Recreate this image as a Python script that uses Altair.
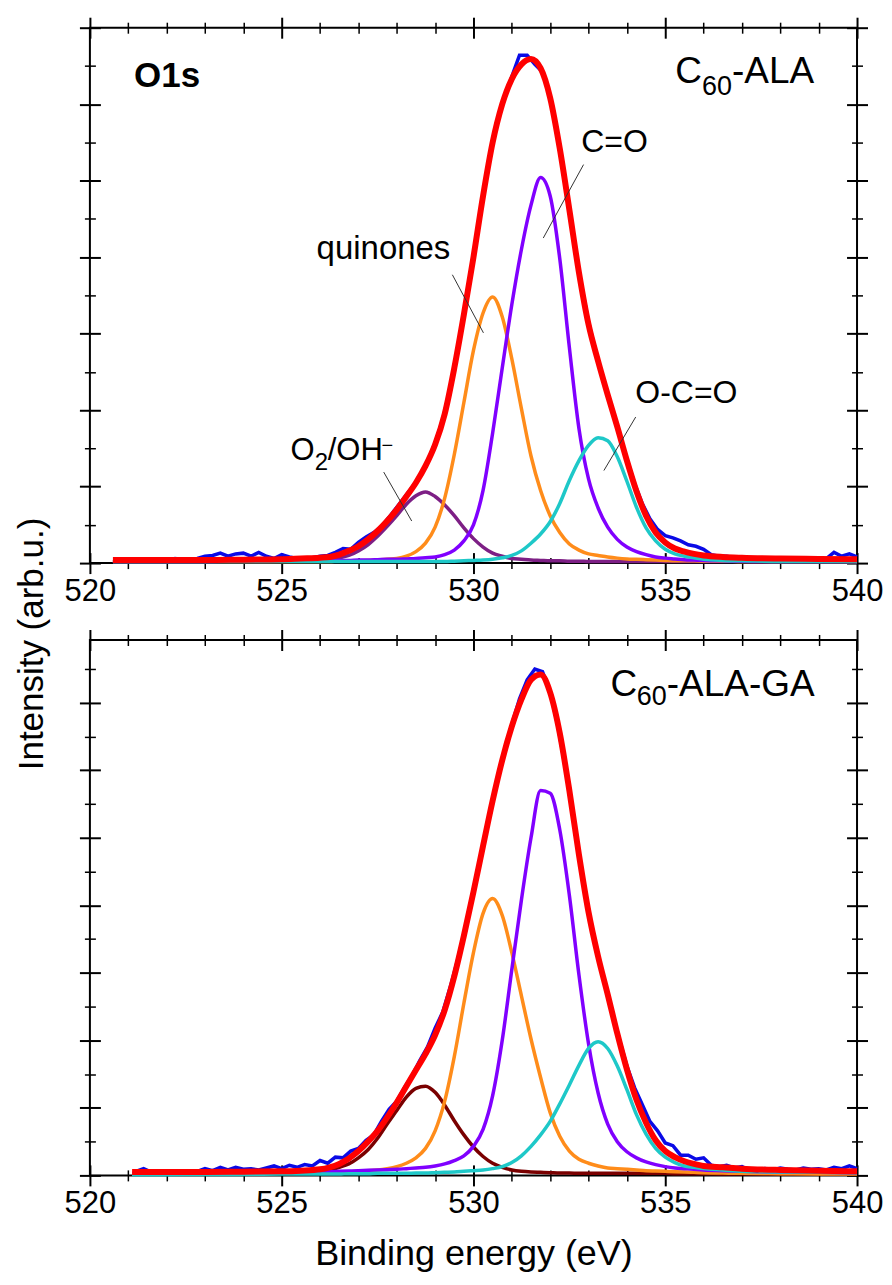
import altair as alt
import pandas as pd

FONT = "Liberation Sans"

# ---------------- energy grids (eV) ----------------
E_FIT_TOP = [520.6, 522, 523, 524, 525, 525.5,
             526, 526.25, 526.5, 526.75, 527, 527.25, 527.5, 527.75, 528, 528.25,
             528.5, 528.75, 529, 529.25, 529.5, 529.75, 530, 530.25, 530.5, 530.75,
             531, 531.25, 531.5, 531.75, 532, 532.25, 532.5, 532.75, 533, 533.25,
             533.5, 533.75, 534, 534.25, 534.5, 534.75, 535, 535.25, 535.5, 535.75,
             536, 536.5, 537, 538, 539, 540]
E_FIT_BOT = [521.1] + E_FIT_TOP[1:]

# ---------------- top panel: C60-ALA ----------------
OH_TOP = [0.02, 0.02, 0.02, 0.02, 0.025, 0.03,
          0.04, 0.05, 0.07, 0.10, 0.16, 0.24, 0.35, 0.48, 0.62, 0.77,
          0.88, 0.93, 0.87, 0.76, 0.62, 0.46, 0.32, 0.21, 0.13, 0.09,
          0.06, 0.05, 0.04, 0.035, 0.03, 0.03, 0.025, 0.025, 0.02, 0.02,
          0.02, 0.02, 0.02, 0.02, 0.02, 0.02, 0.02, 0.02, 0.02, 0.02,
          0.02, 0.02, 0.02, 0.02, 0.02, 0.02]
QUI_TOP = [0.02, 0.02, 0.02, 0.02, 0.02, 0.02,
           0.02, 0.02, 0.025, 0.025, 0.03, 0.035, 0.04, 0.05, 0.06, 0.09,
           0.15, 0.26, 0.47, 0.85, 1.42, 2.10, 2.78, 3.27, 3.48, 3.22,
           2.67, 2.02, 1.40, 0.95, 0.62, 0.40, 0.25, 0.17, 0.12, 0.10,
           0.08, 0.065, 0.055, 0.05, 0.045, 0.04, 0.035, 0.03, 0.03, 0.03,
           0.025, 0.025, 0.02, 0.02, 0.02, 0.02]
CO_TOP = [0.02, 0.02, 0.02, 0.025, 0.025, 0.03,
          0.03, 0.03, 0.035, 0.035, 0.04, 0.04, 0.045, 0.05, 0.05, 0.055,
          0.06, 0.07, 0.08, 0.11, 0.17, 0.29, 0.50, 0.95, 1.70, 2.55,
          3.38, 4.10, 4.68, 5.04, 4.80, 3.98, 2.82, 1.76, 1.10, 0.72,
          0.47, 0.31, 0.21, 0.15, 0.11, 0.08, 0.065, 0.055, 0.045, 0.04,
          0.035, 0.03, 0.025, 0.02, 0.02, 0.02]
OCO_TOP = [0.02, 0.02, 0.02, 0.02, 0.02, 0.02,
           0.02, 0.02, 0.02, 0.02, 0.02, 0.02, 0.02, 0.02, 0.02, 0.02,
           0.02, 0.02, 0.02, 0.02, 0.025, 0.03, 0.035, 0.04, 0.05, 0.07,
           0.10, 0.16, 0.26, 0.38, 0.54, 0.78, 1.08, 1.34, 1.54, 1.64,
           1.60, 1.39, 1.07, 0.73, 0.46, 0.29, 0.18, 0.12, 0.09, 0.07,
           0.05, 0.035, 0.03, 0.02, 0.02, 0.02]
FIT_TOP = [0.04, 0.04, 0.04, 0.045, 0.05, 0.06,
           0.07, 0.08, 0.11, 0.16, 0.22, 0.31, 0.42, 0.55, 0.70, 0.87,
           1.05, 1.27, 1.55, 1.95, 2.55, 3.25, 4.00, 4.80, 5.50, 6.00,
           6.33, 6.52, 6.59, 6.47, 6.08, 5.42, 4.62, 3.80, 3.12, 2.64,
           2.20, 1.78, 1.34, 0.94, 0.62, 0.40, 0.27, 0.19, 0.15, 0.12,
           0.10, 0.08, 0.07, 0.06, 0.055, 0.05]
DATA_TOP = [0.06, 0.05, 0.05, 0.06, 0.09, 0.10, 0.13, 0.09, 0.12, 0.13,
            0.09, 0.14, 0.09, 0.06, 0.11, 0.08, 0.06, 0.07, 0.07, 0.09,
            0.10, 0.14, 0.19, 0.18, 0.27, 0.34, 0.40, 0.48, 0.60, 0.73,
            0.86, 0.99, 1.14, 1.33, 1.57, 1.88, 2.30, 2.82, 3.40, 4.02,
            4.65, 5.25, 5.72, 6.08, 6.36, 6.64, 6.64, 6.52, 6.42, 6.10,
            5.57, 4.95, 4.30, 3.68, 3.15, 2.74, 2.38, 2.04, 1.70, 1.36,
            1.04, 0.78, 0.58, 0.44, 0.36, 0.33, 0.29, 0.24, 0.22, 0.18,
            0.11, 0.09, 0.09, 0.07, 0.07, 0.06, 0.06, 0.05, 0.05, 0.05,
            0.05, 0.05, 0.05, 0.05, 0.05, 0.06, 0.14, 0.09, 0.12, 0.08]
E_DATA_TOP = [round(522.2 + 0.2 * i, 1) for i in range(len(DATA_TOP))]

# ---------------- bottom panel: C60-ALA-GA ----------------
OH_BOT = [0.02, 0.02, 0.02, 0.02, 0.03, 0.04,
          0.06, 0.08, 0.12, 0.17, 0.26, 0.38, 0.55, 0.76, 0.96, 1.16,
          1.29, 1.32, 1.23, 1.04, 0.81, 0.60, 0.42, 0.28, 0.18, 0.12,
          0.08, 0.06, 0.05, 0.045, 0.04, 0.035, 0.035, 0.03, 0.03, 0.03,
          0.03, 0.03, 0.03, 0.03, 0.03, 0.03, 0.03, 0.025, 0.025, 0.025,
          0.025, 0.02, 0.02, 0.02, 0.02, 0.02]
QUI_BOT = [0.02, 0.02, 0.025, 0.03, 0.03, 0.035,
           0.04, 0.04, 0.045, 0.05, 0.06, 0.07, 0.08, 0.10, 0.13, 0.18,
           0.26, 0.40, 0.66, 1.10, 1.76, 2.55, 3.30, 3.88, 4.10, 3.85,
           3.30, 2.66, 2.02, 1.45, 0.93, 0.58, 0.36, 0.24, 0.18, 0.14,
           0.11, 0.10, 0.09, 0.08, 0.07, 0.065, 0.06, 0.055, 0.05, 0.045,
           0.04, 0.035, 0.03, 0.025, 0.02, 0.02]
CO_BOT = [0.03, 0.03, 0.035, 0.04, 0.045, 0.05,
          0.05, 0.055, 0.06, 0.065, 0.07, 0.075, 0.08, 0.085, 0.09, 0.10,
          0.11, 0.12, 0.14, 0.17, 0.22, 0.29, 0.43, 0.68, 1.18, 2.00,
          3.05, 4.08, 5.00, 5.70, 5.66, 5.12, 4.15, 2.97, 1.95, 1.22,
          0.76, 0.50, 0.35, 0.26, 0.20, 0.16, 0.13, 0.11, 0.10, 0.09,
          0.08, 0.07, 0.06, 0.05, 0.045, 0.04]
OCO_BOT = [0.01, 0.01, 0.015, 0.015, 0.02, 0.02,
           0.02, 0.02, 0.02, 0.025, 0.025, 0.025, 0.03, 0.03, 0.03, 0.03,
           0.035, 0.035, 0.04, 0.045, 0.05, 0.06, 0.07, 0.08, 0.10, 0.13,
           0.19, 0.29, 0.43, 0.60, 0.80, 1.06, 1.34, 1.63, 1.88, 1.98,
           1.88, 1.62, 1.27, 0.90, 0.61, 0.40, 0.27, 0.19, 0.14, 0.12,
           0.10, 0.08, 0.06, 0.05, 0.045, 0.04]
FIT_BOT = [0.05, 0.05, 0.05, 0.055, 0.06, 0.07,
           0.09, 0.12, 0.17, 0.25, 0.36, 0.50, 0.66, 0.86, 1.08, 1.32,
           1.56, 1.80, 2.08, 2.45, 2.95, 3.55, 4.20, 4.88, 5.55, 6.15,
           6.65, 7.05, 7.34, 7.42, 7.15, 6.55, 5.70, 4.75, 3.90, 3.24,
           2.68, 2.10, 1.57, 1.12, 0.78, 0.52, 0.36, 0.27, 0.21, 0.17,
           0.14, 0.12, 0.10, 0.08, 0.07, 0.06]
DATA_BOT = [0.06, 0.10, 0.05, 0.05, 0.05, 0.06, 0.05, 0.07, 0.06, 0.10,
            0.07, 0.12, 0.08, 0.12, 0.09, 0.10, 0.08, 0.11, 0.14, 0.10,
            0.15, 0.12, 0.16, 0.14, 0.22, 0.18, 0.27, 0.26, 0.36, 0.40,
            0.52, 0.60, 0.80, 0.98, 1.10, 1.30, 1.48, 1.70, 1.90, 2.18,
            2.42, 2.80, 3.22, 3.70, 4.24, 4.76, 5.30, 5.82, 6.28, 6.68,
            7.06, 7.34, 7.50, 7.46, 7.16, 6.66, 6.02, 5.36, 4.60, 3.92,
            3.38, 2.90, 2.46, 2.02, 1.62, 1.30, 1.05, 0.80, 0.66, 0.48,
            0.44, 0.30, 0.30, 0.24, 0.26, 0.15, 0.13, 0.15, 0.11, 0.13,
            0.08, 0.07, 0.10, 0.08, 0.11, 0.09, 0.08, 0.11, 0.09, 0.10,
            0.08, 0.12, 0.10, 0.14, 0.10]
E_DATA_BOT = [round(521.2 + 0.2 * i, 1) for i in range(len(DATA_BOT))]

COMP_NAMES = ["O2/OH-", "quinones", "C=O", "O-C=O"]
COLORS_TOP = ["#7d1f85", "#ff8c1a", "#8000ff", "#1ec8c8"]
COLORS_BOT = ["#7a0000", "#ff8c1a", "#8000ff", "#1ec8c8"]

X_MAJOR = [520, 525, 530, 535, 540]
X_MINOR = [521, 522, 523, 524, 526, 527, 528, 529, 531, 532, 533, 534, 536, 537, 538, 539]

# annotations (text, energy, intensity, font size)
TXT_TOP = [("quinones", 525.91, 3.98, 33), ("C=O", 532.81, 5.38, 32),
           ("O-C=O", 534.22, 2.09, 32), ("O", 525.23, 1.345, 31),
           ("2", 525.86, 1.215, 24), ("/OH", 526.20, 1.345, 31),
           ("\u2212", 527.60, 1.45, 20),
           ("C", 535.26, 6.28, 37), ("60", 535.96, 6.125, 27), ("-ALA", 536.74, 6.28, 37)]
BOLD_TOP = [("O1s", 521.15, 6.22, 35)]
LEAD_TOP = [(529.45, 3.77, 530.26, 3.01), (532.87, 5.21, 531.82, 4.25),
            (534.23, 1.91, 533.40, 1.21), (527.66, 1.19, 528.39, 0.55)]
TXT_BOT = [("C", 533.57, 7.105, 37), ("60", 534.26, 6.972, 27), ("-ALA-GA", 535.04, 7.105, 37)]


def comp_frame(E, series):
    rows = []
    for name, vals in zip(COMP_NAMES, series):
        assert len(vals) == len(E)
        for e, v in zip(E, vals):
            rows.append({"E": e, "I": v, "c": name})
    return pd.DataFrame(rows)


def panel(E_fit, series, colors, fit, E_data, data, ymax, txt, bold, leads, xtitle):
    xs = alt.Scale(domain=[520, 540], nice=False, zero=False)
    ys = alt.Scale(domain=[0, ymax], nice=False, zero=False)
    y_major = [v for v in range(0, 8) if v <= ymax]
    y_minor = [v + 0.5 for v in range(0, 8) if v + 0.5 <= ymax]

    def ax(orient, vals, size, width, labels=False, title=None):
        kw = dict(orient=orient, values=vals, tickSize=size, offset=-size / 2.0,
                  tickWidth=width, tickColor="black", domain=False, grid=False,
                  labels=labels)
        if labels:
            kw.update(labelFontSize=31, labelFont=FONT, labelColor="black",
                      labelPadding=3, labelFlush=False, labelOverlap=False)
        if title:
            kw.update(title=title, titleFont=FONT, titleFontSize=36,
                      titleFontWeight="normal", titleColor="black", titlePadding=18)
        else:
            kw.update(title=None)
        return alt.Axis(**kw)

    dfc = comp_frame(E_fit, series)
    comp = alt.Chart(dfc).mark_line(strokeWidth=3.5, interpolate="monotone").encode(
        x=alt.X("E:Q", scale=xs, axis=ax("bottom", X_MAJOR, 21, 2, labels=True, title=xtitle)),
        y=alt.Y("I:Q", scale=ys, axis=ax("left", y_major, 21, 2)),
        color=alt.Color("c:N", scale=alt.Scale(domain=COMP_NAMES, range=colors), legend=None),
    )
    dfd = pd.DataFrame({"E": E_data, "I": data})
    blue = alt.Chart(dfd).mark_line(color="#0a0ae6", strokeWidth=3.5).encode(
        x=alt.X("E:Q", scale=xs, axis=ax("bottom", X_MINOR, 11, 1.5)),
        y=alt.Y("I:Q", scale=ys, axis=ax("left", y_minor, 11, 1.5)),
    )
    dff = pd.DataFrame({"E": E_fit, "I": fit})
    red = alt.Chart(dff).mark_line(color="#ff0000", strokeWidth=6, interpolate="monotone").encode(
        x=alt.X("E:Q", scale=xs, axis=ax("top", X_MAJOR, 21, 2)),
        y=alt.Y("I:Q", scale=ys, axis=ax("right", y_major, 21, 2)),
    )
    carrier = alt.Chart(dff).mark_line(opacity=0).encode(
        x=alt.X("E:Q", scale=xs, axis=ax("top", X_MINOR, 11, 1.5)),
        y=alt.Y("I:Q", scale=ys, axis=ax("right", y_minor, 11, 1.5)),
    )
    layers = [comp, blue, red, carrier]
    if leads:
        dfl = pd.DataFrame(leads, columns=["x1", "y1", "x2", "y2"])
        layers.append(alt.Chart(dfl).mark_rule(color="#333333", strokeWidth=1).encode(
            x=alt.X("x1:Q", scale=xs, axis=None), x2="x2:Q",
            y=alt.Y("y1:Q", scale=ys, axis=None), y2="y2:Q"))
    if txt:
        dft = pd.DataFrame(txt, columns=["t", "E", "I", "s"])
        layers.append(alt.Chart(dft).mark_text(align="left", baseline="alphabetic", font=FONT,
                                               color="black").encode(
            x=alt.X("E:Q", scale=xs, axis=None), y=alt.Y("I:Q", scale=ys, axis=None),
            text="t:N", size=alt.Size("s:Q", scale=None)))
    if bold:
        dfb = pd.DataFrame(bold, columns=["t", "E", "I", "s"])
        layers.append(alt.Chart(dfb).mark_text(align="left", baseline="alphabetic", font=FONT,
                                               fontWeight="bold", color="black").encode(
            x=alt.X("E:Q", scale=xs, axis=None), y=alt.Y("I:Q", scale=ys, axis=None),
            text="t:N", size=alt.Size("s:Q", scale=None)))
    return alt.layer(*layers).resolve_axis(x="independent", y="independent").properties(
        width=768, height=536)


top = panel(E_FIT_TOP, [OH_TOP, QUI_TOP, CO_TOP, OCO_TOP], COLORS_TOP, FIT_TOP,
            E_DATA_TOP, DATA_TOP, 7.0, TXT_TOP, BOLD_TOP, LEAD_TOP, None)
bot = panel(E_FIT_BOT, [OH_BOT, QUI_BOT, CO_BOT, OCO_BOT], COLORS_BOT, FIT_BOT,
            E_DATA_BOT, DATA_BOT, 7.93, TXT_BOT, None, None, "Binding energy (eV)")

chart = alt.vconcat(top, bot, spacing=19).resolve_scale(color="independent").properties(
    title=alt.TitleParams("Intensity (arb.u.)", orient="left", anchor="middle",
                          fontSize=35, font=FONT, fontWeight="normal", color="black",
                          offset=13),
    padding={"left": 7, "top": 6, "right": 0, "bottom": 0},
).configure_view(stroke="black", strokeWidth=2)

chart.save("out.html", embed_options={"renderer": "svg", "actions": False})
